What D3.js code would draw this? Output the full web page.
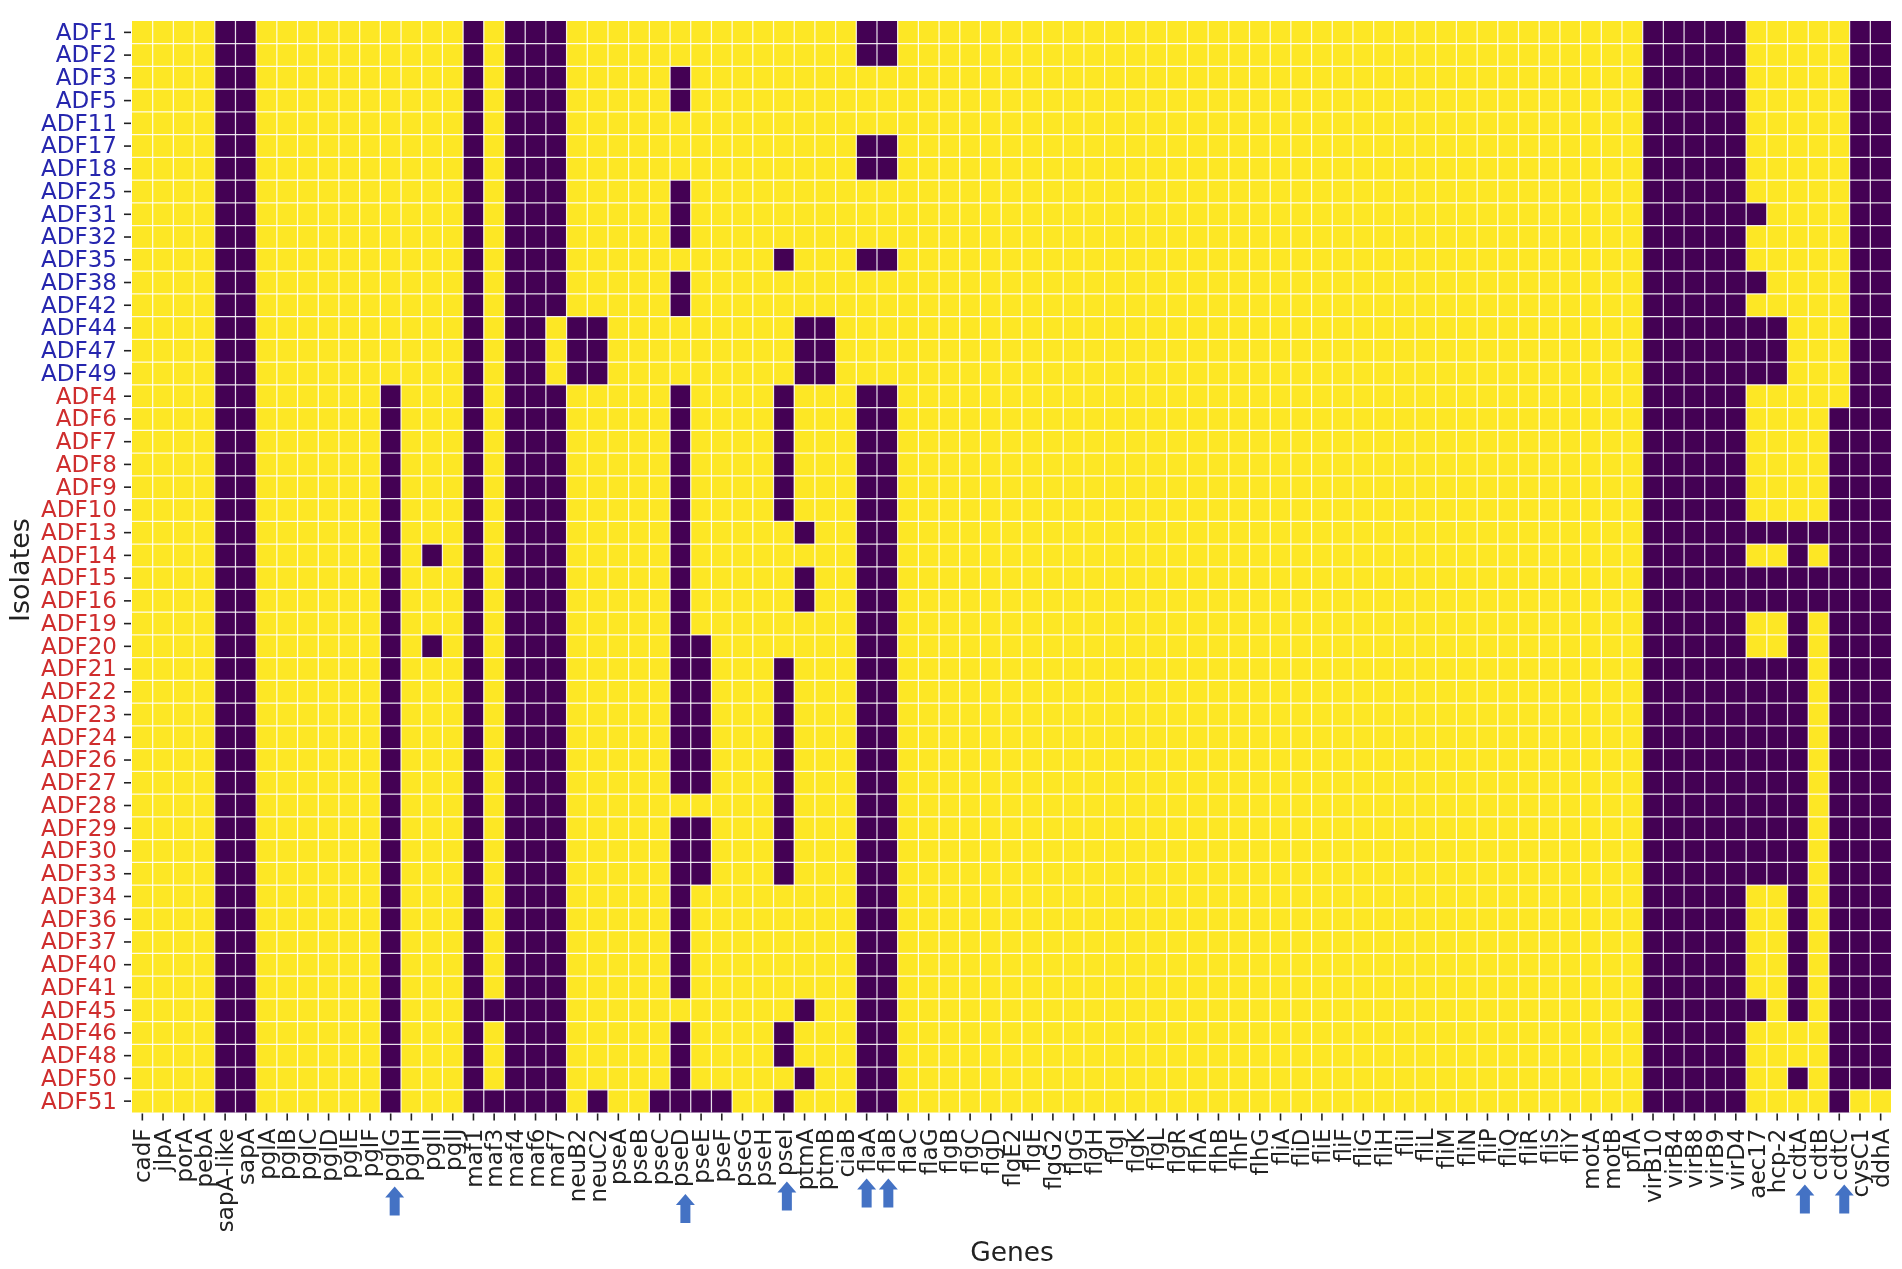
<!DOCTYPE html>
<html>
<head>
<meta charset="utf-8">
<script src="https://cdn.jsdelivr.net/npm/d3@7"></script>
<style>
  body { margin: 0; background: #fff; }
  svg { display: block; filter: blur(0.45px); }
  text { font-family: "DejaVu Sans", sans-serif; }
  .tick line { stroke: #222; stroke-width: 1.6; }
  .domain { display: none; }
</style>
</head>
<body>
<svg id="chart" width="1902" height="1269"></svg>
<script>
const genes = [
  "cadF", "jlpA", "porA", "pebA", "sapA-like", "sapA", "pglA", "pglB", "pglC", "pglD",
  "pglE", "pglF", "pglG", "pglH", "pglI", "pglJ", "maf1", "maf3", "maf4", "maf6", "maf7",
  "neuB2", "neuC2", "pseA", "pseB", "pseC", "pseD", "pseE", "pseF", "pseG", "pseH", "pseI",
  "ptmA", "ptmB", "ciaB", "flaA", "flaB", "flaC", "flaG", "flgB", "flgC", "flgD", "flgE2",
  "flgE", "flgG2", "flgG", "flgH", "flgI", "flgK", "flgL", "flgR", "flhA", "flhB", "flhF",
  "flhG", "fliA", "fliD", "fliE", "fliF", "fliG", "fliH", "fliI", "fliL", "fliM", "fliN",
  "fliP", "fliQ", "fliR", "fliS", "fliY", "motA", "motB", "pflA", "virB10", "virB4", "virB8",
  "virB9", "virD4", "aec17", "hcp-2", "cdtA", "cdtB", "cdtC", "cysC1", "ddhA"
];

const blueIsolates = [
  "ADF1", "ADF2", "ADF3", "ADF5", "ADF11", "ADF17", "ADF18", "ADF25", "ADF31", "ADF32",
  "ADF35", "ADF38", "ADF42", "ADF44", "ADF47", "ADF49"
];
const redIsolates = [
  "ADF4", "ADF6", "ADF7", "ADF8", "ADF9", "ADF10", "ADF13", "ADF14", "ADF15", "ADF16",
  "ADF19", "ADF20", "ADF21", "ADF22", "ADF23", "ADF24", "ADF26", "ADF27", "ADF28", "ADF29",
  "ADF30", "ADF33", "ADF34", "ADF36", "ADF37", "ADF40", "ADF41", "ADF45", "ADF46", "ADF48",
  "ADF50", "ADF51"
];

// one string per isolate, one digit per gene (1 yellow, 0 purple), spaces only for reading
const calls = [
  "1111 00 111111 1111 0 1 00 011 11 1111 11 111 1 00 111111 111111 111111 111111 111111 111111 00000 11111 00",
  "1111 00 111111 1111 0 1 00 011 11 1111 11 111 1 00 111111 111111 111111 111111 111111 111111 00000 11111 00",
  "1111 00 111111 1111 0 1 00 011 11 1011 11 111 1 11 111111 111111 111111 111111 111111 111111 00000 11111 00",
  "1111 00 111111 1111 0 1 00 011 11 1011 11 111 1 11 111111 111111 111111 111111 111111 111111 00000 11111 00",
  "1111 00 111111 1111 0 1 00 011 11 1111 11 111 1 11 111111 111111 111111 111111 111111 111111 00000 11111 00",
  "1111 00 111111 1111 0 1 00 011 11 1111 11 111 1 00 111111 111111 111111 111111 111111 111111 00000 11111 00",
  "1111 00 111111 1111 0 1 00 011 11 1111 11 111 1 00 111111 111111 111111 111111 111111 111111 00000 11111 00",
  "1111 00 111111 1111 0 1 00 011 11 1011 11 111 1 11 111111 111111 111111 111111 111111 111111 00000 11111 00",
  "1111 00 111111 1111 0 1 00 011 11 1011 11 111 1 11 111111 111111 111111 111111 111111 111111 00000 01111 00",
  "1111 00 111111 1111 0 1 00 011 11 1011 11 111 1 11 111111 111111 111111 111111 111111 111111 00000 11111 00",
  "1111 00 111111 1111 0 1 00 011 11 1111 11 011 1 00 111111 111111 111111 111111 111111 111111 00000 11111 00",
  "1111 00 111111 1111 0 1 00 011 11 1011 11 111 1 11 111111 111111 111111 111111 111111 111111 00000 01111 00",
  "1111 00 111111 1111 0 1 00 011 11 1011 11 111 1 11 111111 111111 111111 111111 111111 111111 00000 11111 00",
  "1111 00 111111 1111 0 1 00 100 11 1111 11 100 1 11 111111 111111 111111 111111 111111 111111 00000 00111 00",
  "1111 00 111111 1111 0 1 00 100 11 1111 11 100 1 11 111111 111111 111111 111111 111111 111111 00000 00111 00",
  "1111 00 111111 1111 0 1 00 100 11 1111 11 100 1 11 111111 111111 111111 111111 111111 111111 00000 00111 00",
  "1111 00 111111 0111 0 1 00 011 11 1011 11 011 1 00 111111 111111 111111 111111 111111 111111 00000 11111 00",
  "1111 00 111111 0111 0 1 00 011 11 1011 11 011 1 00 111111 111111 111111 111111 111111 111111 00000 11110 00",
  "1111 00 111111 0111 0 1 00 011 11 1011 11 011 1 00 111111 111111 111111 111111 111111 111111 00000 11110 00",
  "1111 00 111111 0111 0 1 00 011 11 1011 11 011 1 00 111111 111111 111111 111111 111111 111111 00000 11110 00",
  "1111 00 111111 0111 0 1 00 011 11 1011 11 011 1 00 111111 111111 111111 111111 111111 111111 00000 11110 00",
  "1111 00 111111 0111 0 1 00 011 11 1011 11 011 1 00 111111 111111 111111 111111 111111 111111 00000 11110 00",
  "1111 00 111111 0111 0 1 00 011 11 1011 11 101 1 00 111111 111111 111111 111111 111111 111111 00000 00000 00",
  "1111 00 111111 0101 0 1 00 011 11 1011 11 111 1 00 111111 111111 111111 111111 111111 111111 00000 11010 00",
  "1111 00 111111 0111 0 1 00 011 11 1011 11 101 1 00 111111 111111 111111 111111 111111 111111 00000 00000 00",
  "1111 00 111111 0111 0 1 00 011 11 1011 11 101 1 00 111111 111111 111111 111111 111111 111111 00000 00000 00",
  "1111 00 111111 0111 0 1 00 011 11 1011 11 111 1 00 111111 111111 111111 111111 111111 111111 00000 11010 00",
  "1111 00 111111 0101 0 1 00 011 11 1001 11 111 1 00 111111 111111 111111 111111 111111 111111 00000 11010 00",
  "1111 00 111111 0111 0 1 00 011 11 1001 11 011 1 00 111111 111111 111111 111111 111111 111111 00000 00010 00",
  "1111 00 111111 0111 0 1 00 011 11 1001 11 011 1 00 111111 111111 111111 111111 111111 111111 00000 00010 00",
  "1111 00 111111 0111 0 1 00 011 11 1001 11 011 1 00 111111 111111 111111 111111 111111 111111 00000 00010 00",
  "1111 00 111111 0111 0 1 00 011 11 1001 11 011 1 00 111111 111111 111111 111111 111111 111111 00000 00010 00",
  "1111 00 111111 0111 0 1 00 011 11 1001 11 011 1 00 111111 111111 111111 111111 111111 111111 00000 00010 00",
  "1111 00 111111 0111 0 1 00 011 11 1001 11 011 1 00 111111 111111 111111 111111 111111 111111 00000 00010 00",
  "1111 00 111111 0111 0 1 00 011 11 1111 11 011 1 00 111111 111111 111111 111111 111111 111111 00000 00010 00",
  "1111 00 111111 0111 0 1 00 011 11 1001 11 011 1 00 111111 111111 111111 111111 111111 111111 00000 00010 00",
  "1111 00 111111 0111 0 1 00 011 11 1001 11 011 1 00 111111 111111 111111 111111 111111 111111 00000 00010 00",
  "1111 00 111111 0111 0 1 00 011 11 1001 11 011 1 00 111111 111111 111111 111111 111111 111111 00000 00010 00",
  "1111 00 111111 0111 0 1 00 011 11 1011 11 111 1 00 111111 111111 111111 111111 111111 111111 00000 11010 00",
  "1111 00 111111 0111 0 1 00 011 11 1011 11 111 1 00 111111 111111 111111 111111 111111 111111 00000 11010 00",
  "1111 00 111111 0111 0 1 00 011 11 1011 11 111 1 00 111111 111111 111111 111111 111111 111111 00000 11010 00",
  "1111 00 111111 0111 0 1 00 011 11 1011 11 111 1 00 111111 111111 111111 111111 111111 111111 00000 11010 00",
  "1111 00 111111 0111 0 1 00 011 11 1011 11 111 1 00 111111 111111 111111 111111 111111 111111 00000 11010 00",
  "1111 00 111111 0111 0 0 00 011 11 1111 11 101 1 00 111111 111111 111111 111111 111111 111111 00000 01010 00",
  "1111 00 111111 0111 0 1 00 011 11 1011 11 011 1 00 111111 111111 111111 111111 111111 111111 00000 11110 00",
  "1111 00 111111 0111 0 1 00 011 11 1011 11 011 1 00 111111 111111 111111 111111 111111 111111 00000 11110 00",
  "1111 00 111111 0111 0 1 00 011 11 1011 11 101 1 00 111111 111111 111111 111111 111111 111111 00000 11010 00",
  "1111 00 111111 0111 0 0 00 010 11 0000 11 011 1 00 111111 111111 111111 111111 111111 111111 00000 11110 11"
];

// the blue arrows pasted under the gene names
const arrowGenes = ["pglG", "pseD", "pseI", "flaA", "flaB", "cdtA", "cdtC"];
const arrowNudge = [4, 5, 3, 0, 1, 7, 5];
const arrowDrop = [74, 81.5, 69, 66, 66, 72, 72];

const isolates = blueIsolates.concat(redIsolates);

const margin = { top: 21, left: 132 };
const width = 1759;
const height = 1091.5;

const svg = d3.select("#chart");
const chart = svg.append("g").attr("transform", `translate(${margin.left}, ${margin.top})`);

const xScale = d3.scaleBand().domain(genes).range([0, width]);
const yScale = d3.scaleBand().domain(isolates).range([0, height]);

const cells = [];
isolates.forEach((isolate, i) => {
  const digits = calls[i].replace(/ /g, "");
  genes.forEach((gene, j) => {
    cells.push({ isolate: isolate, gene: gene, value: +digits[j] });
  });
});

chart
  .selectAll("rect.cell")
  .data(cells)
  .enter()
  .append("rect")
  .attr("class", "cell")
  .attr("x", (d) => xScale(d.gene))
  .attr("y", (d) => yScale(d.isolate))
  .attr("width", xScale.bandwidth())
  .attr("height", yScale.bandwidth())
  .attr("fill", (d) => (d.value ? "#fde725" : "#440154"));

// white lines between the cells, drawn on top
chart
  .append("g")
  .selectAll("line")
  .data(genes.slice(1))
  .enter()
  .append("line")
  .attr("x1", (d) => xScale(d))
  .attr("x2", (d) => xScale(d))
  .attr("y1", 0)
  .attr("y2", height)
  .attr("stroke", "#fff")
  .attr("stroke-opacity", 0.85)
  .attr("stroke-width", 1.25);

chart
  .append("g")
  .selectAll("line")
  .data(isolates.slice(1))
  .enter()
  .append("line")
  .attr("x1", 0)
  .attr("x2", width)
  .attr("y1", (d) => yScale(d))
  .attr("y2", (d) => yScale(d))
  .attr("stroke", "#fff")
  .attr("stroke-opacity", 0.85)
  .attr("stroke-width", 1.25);

const xAxis = chart
  .append("g")
  .attr("transform", `translate(0, ${height + 1})`)
  .call(d3.axisBottom(xScale).tickSize(7).tickPadding(8));

xAxis
  .selectAll("text")
  .attr("transform", "rotate(-90)")
  .attr("x", -15)
  .attr("y", 0)
  .attr("dy", "0.35em")
  .attr("text-anchor", "end")
  .attr("font-size", 23)
  .attr("font-family", '"DejaVu Sans"')
  .attr("fill", "#222");

const yAxis = chart
  .append("g")
  .attr("transform", "translate(-1, 0)")
  .call(d3.axisLeft(yScale).tickSize(7).tickPadding(7));

yAxis
  .selectAll("text")
  .attr("font-size", 23)
  .attr("font-family", '"DejaVu Sans"')
  .attr("fill", (d) => (blueIsolates.includes(d) ? "#2626ae" : "#cf2d2d"));

svg
  .append("text")
  .attr("x", 1012)
  .attr("y", 1261)
  .attr("text-anchor", "middle")
  .attr("font-size", 26.5)
  .attr("fill", "#222")
  .text("Genes");

svg
  .append("text")
  .attr("transform", "translate(29, 570) rotate(-90)")
  .attr("text-anchor", "middle")
  .attr("font-size", 27)
  .attr("fill", "#222")
  .text("Isolates");

// arrow outline relative to its tip: 19 wide head, 10 wide shaft, 29 tall
const arrowShape = d3.line()([[0, 0], [9.5, 11], [5, 11], [5, 29], [-5, 29], [-5, 11], [-9.5, 11]]) + "Z";

chart
  .append("g")
  .selectAll("path")
  .data(arrowGenes)
  .enter()
  .append("path")
  .attr("d", arrowShape)
  .attr("fill", "#4472c4")
  .attr("transform", (d, i) => {
    const x = xScale(d) + xScale.bandwidth() / 2 + arrowNudge[i];
    return `translate(${x}, ${height + arrowDrop[i]})`;
  });
</script>
</body>
</html>
